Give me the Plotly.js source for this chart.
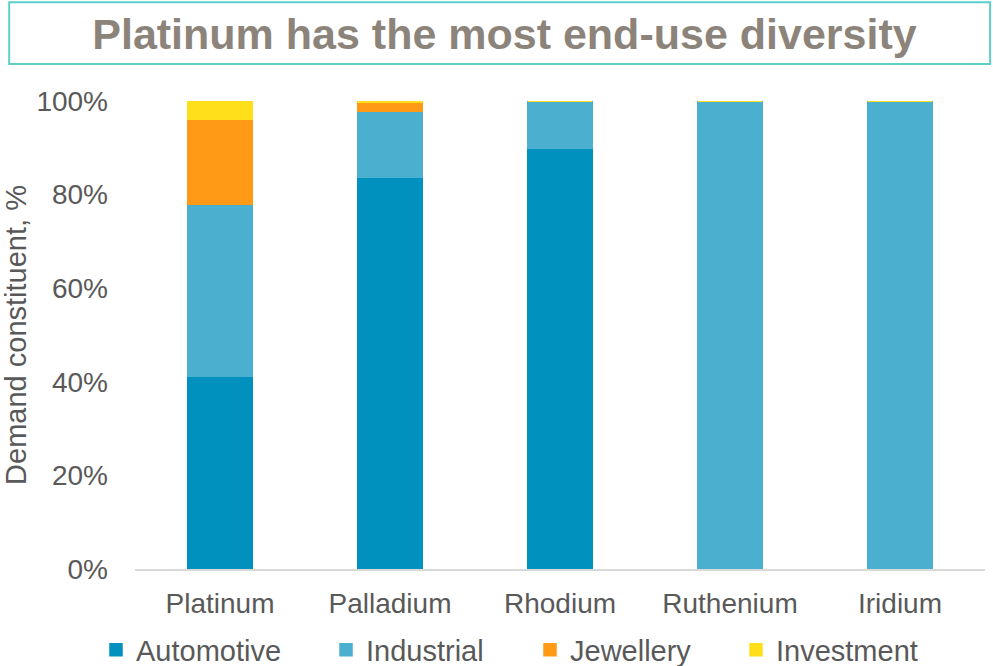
<!DOCTYPE html>
<html>
<head>
<meta charset="utf-8">
<script src="https://cdn.plot.ly/plotly-3.0.1.min.js"></script>
<style>html,body{margin:0;padding:0;background:#fff;}#chart{width:993px;height:666px;}</style>
</head>
<body>
<div id="chart"></div>
<script>
const metals = ["Platinum", "Palladium", "Rhodium", "Ruthenium", "Iridium"];
const automotive = [0.412, 0.838, 0.898, 0, 0];
const industrial = [0.367, 0.140, 0.102, 1.0, 1.0];
const jewellery = [0.183, 0.020, 0, 0, 0];
const investment = [0.038, 0.002, 0, 0, 0];
const yTicks = [0, 0.2, 0.4, 0.6, 0.8, 1.0];
const yTickLabels = ["0%", "20%", "40%", "60%", "80%", "100%"];

const font = "Liberation Sans, Arial, sans-serif";
const gray = "#595959";

function series(name, vals, color, legendId) {
  return {
    type: "bar", name: name, x: metals, y: vals, legend: legendId,
    marker: {color: color, line: {color: color, width: 1.5}},
    hoverinfo: "x+y+name"
  };
}

const data = [
  series("Automotive", automotive, "#0091BE", "legend"),
  series("Industrial", industrial, "#4BB0D0", "legend2"),
  series("Jewellery", jewellery, "#FF9A17", "legend3"),
  series("Investment", investment, "#FFDE1A", "legend4")
];

function leg(px) {
  return {
    orientation: "h", xref: "container", yref: "container",
    x: px / 993, xanchor: "left", y: 1 - 650 / 666, yanchor: "middle",
    font: {family: font, size: 29, color: gray}, bgcolor: "rgba(0,0,0,0)",
    itemwidth: 30
  };
}

const layout = {
  width: 993, height: 666,
  margin: {l: 135, r: 8, t: 101, b: 97},
  paper_bgcolor: "#fff", plot_bgcolor: "#fff",
  barmode: "stack", bargap: 0.62,
  font: {family: font, color: gray, size: 28},
  title: {
    text: "<b>Platinum has the most end-use diversity</b>",
    font: {family: font, size: 43, color: "#8C847B"},
    x: 0.508, xref: "container", xanchor: "center",
    y: 0.949, yref: "container", yanchor: "middle"
  },
  xaxis: {
    showgrid: false, zeroline: false, showline: true,
    linecolor: "#D9D9D9", linewidth: 2,
    ticks: "", ticklabelstandoff: 8,
    tickfont: {family: font, size: 28, color: gray},
    fixedrange: true
  },
  yaxis: {
    range: [0, 1.0], tickvals: yTicks, ticktext: yTickLabels,
    showgrid: false, zeroline: false, showline: false,
    ticks: "", ticklabelstandoff: 26,
    tickfont: {family: font, size: 28, color: gray},
    title: {text: "Demand constituent, %", font: {family: font, size: 29, color: gray}, standoff: 8},
    fixedrange: true
  },
  legend: leg(96),
  legend2: leg(326),
  legend3: leg(530),
  legend4: leg(736),
  shapes: [{
    type: "rect", xref: "paper", yref: "paper",
    x0: -0.148, x1: 1.006, y0: 1.079, y1: 1.211,
    line: {color: "#5ECFC8", width: 2}, fillcolor: "rgba(0,0,0,0)"
  }],
  showlegend: true
};

Plotly.newPlot("chart", data, layout, {displayModeBar: false, staticPlot: true});
</script>
</body>
</html>
